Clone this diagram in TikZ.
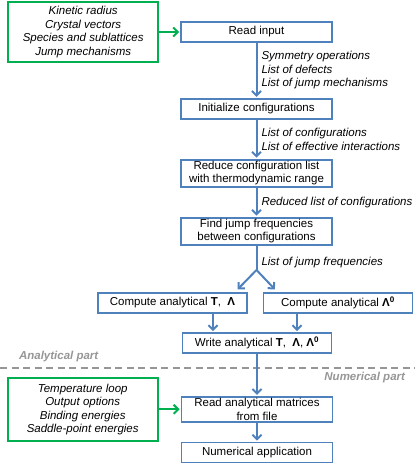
\documentclass[tikz,border=0pt]{standalone}
\usepackage{fontspec}
\setmainfont{Liberation Sans}
\usepackage{tikz}
\usetikzlibrary{positioning}
\usetikzlibrary{arrows.meta}

\definecolor{flowblue}{RGB}{79,129,189}
\definecolor{inputgreen}{RGB}{0,176,80}
\definecolor{partgray}{RGB}{150,150,150}

\begin{document}
\fontsize{11.5}{13.5}\selectfont
\begin{tikzpicture}[
            x=1pt, y=1pt,
            stepnode/.style={rectangle, draw=flowblue, line width=1.8pt, minimum width=151pt, minimum height=20pt, inner xsep=2pt, inner ysep=1.5pt, align=center},
            inputnode/.style={rectangle, draw=inputgreen, line width=1.8pt, minimum width=150pt, minimum height=60pt, inner sep=2pt, align=center},
            note/.style={right, align=left, inner sep=2pt, xshift=2pt, text=black},
            flow/.style={draw=flowblue, line width=2pt, shorten >=1pt, -{Straight Barb[length=4.5pt, width=9pt]}},
            feed/.style={draw=inputgreen, line width=2pt, shorten >=1pt, -{Straight Barb[length=4.5pt, width=9pt]}},
            partline/.style={draw=partgray, line width=1.8pt, dash pattern=on 7pt off 4.5pt},
            parttext/.style={text=partgray, font=\bfseries\itshape},
            node distance=20pt,
        ]
            \useasboundingbox (0,0) rectangle (415,-469);

            % Nodes
            \node[stepnode] (readinput) at (256.5,-32) {Read input};
            \node[stepnode, below=55pt of readinput] (initconf) {Initialize configurations};
            \node[stepnode, below=39pt of initconf] (reduceconf) {Reduce configuration list\\with thermodynamic range};
            \node[stepnode, below=29pt of reduceconf] (findjump) {Find jump frequencies\\between configurations};
            \node[stepnode, minimum width=149pt] (computeTL) at (172.5,-303) {Compute analytical \textbf{T},\ \ \textbf{Λ}};
            \node[stepnode, minimum width=149pt] (computeL0) at (338,-303) {Compute analytical \textbf{Λ\textsuperscript{0}}};
            \node[stepnode, minimum width=149pt] (writeana) at (257,-343) {Write analytical \textbf{T},\ \ \textbf{Λ}, \textbf{Λ\textsuperscript{0}}};
            \node[stepnode, below=42pt of writeana] (readmat) {Read analytical matrices\\from file};
            \node[stepnode, below=19pt of readmat] (numapp) {Numerical application};

            \node[inputnode, left=21pt of readinput] (crystalin) {\itshape Kinetic radius\\\itshape Crystal vectors\\\itshape Species and sublattices\\\itshape Jump mechanisms};
            \node[inputnode, minimum height=63pt, left=22pt of readmat] (numin) {\itshape Temperature loop\\\itshape Output options\\\itshape Binding energies\\\itshape Saddle-point energies};

            \coordinate (split) at (256.5,-270);

            % Parts
            \coordinate (partleft) at (0,-368);
            \coordinate (partright) at (415,-368);
            \draw[partline] (partleft) -- (partright);
            \node[parttext, anchor=west] (anapart) at (15,-357) {Analytical part};
            \node[parttext, anchor=east] (numpart) at (409,-378) {Numerical part};

            % Lines
            \draw[feed] (crystalin) -- (readinput);
            \draw[feed] (numin) -- (readmat);
            \draw[flow] (readinput) -- node[note]{\itshape Symmetry operations\\\itshape List of defects\\\itshape List of jump mechanisms} (initconf);
            \draw[flow] (initconf) -- node[note]{\itshape List of configurations\\\itshape List of effective interactions} (reduceconf);
            \draw[flow] (reduceconf) -- node[note]{\itshape Reduced list of configurations} (findjump);
            \draw[flowblue, line width=2pt] (findjump) -- node[note, pos=0.68]{\itshape List of jump frequencies} (split);
            \draw[flow] (split) -- ([xshift=-11pt, yshift=2pt]computeTL.north east);
            \draw[flow] (split) -- ([xshift=13pt, yshift=2pt]computeL0.north west);
            \draw[flow] ([xshift=40.5pt]computeTL.south) -- ([xshift=40.5pt]computeTL.south |- writeana.north);
            \draw[flow] ([xshift=-41pt]computeL0.south) -- ([xshift=-41pt]computeL0.south |- writeana.north);
            \draw[flow] (writeana) -- (readmat);
            \draw[flow] (readmat) -- (numapp);
        \end{tikzpicture}
\end{document}
